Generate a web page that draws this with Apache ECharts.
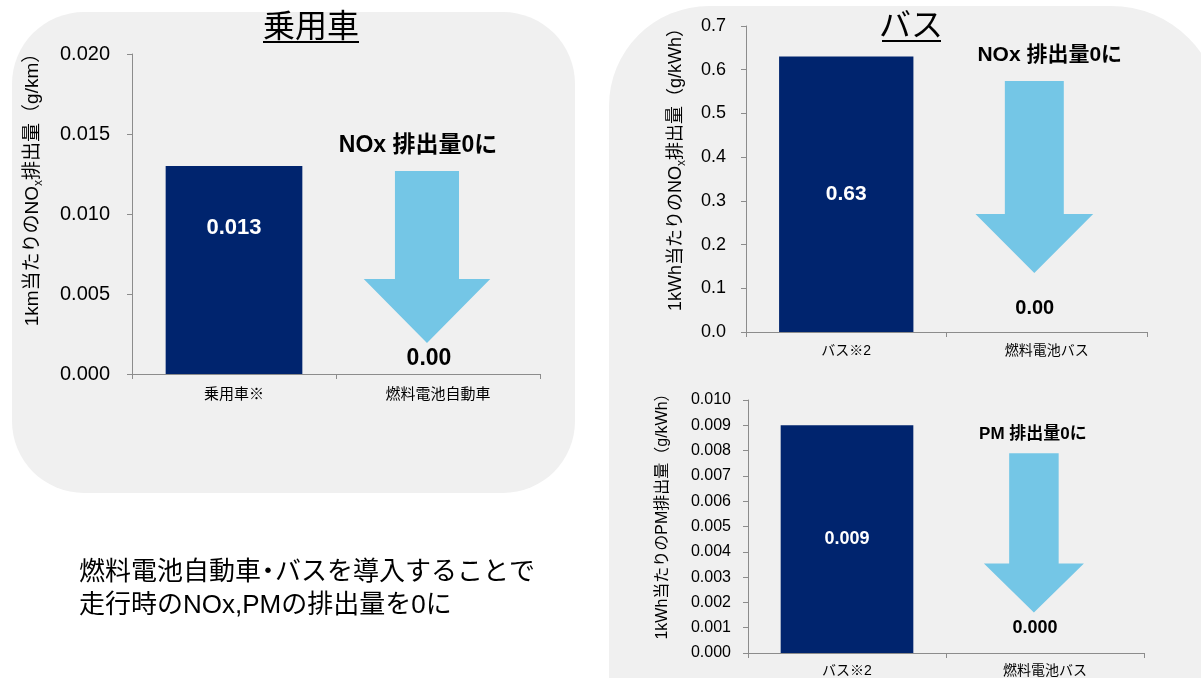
<!DOCTYPE html>
<html><head><meta charset="utf-8">
<script src="https://cdn.jsdelivr.net/npm/echarts@6/dist/echarts.min.js"></script>
<style>html,body{margin:0;padding:0;background:#fff}#c{width:1201px;height:678px}</style>
</head><body><div id="c"></div>
<script>
// ---- data ----
const carCategories = ['乗用車※', '燃料電池自動車'];
const carNox = [0.013, 0];
const carLabels = ['0.013', '0.00'];
const carAxis = { min: 0, max: 0.02, interval: 0.005, decimals: 3 };

const busCategories = ['バス※2', '燃料電池バス'];
const busNox = [0.63, 0];
const busNoxLabels = ['0.63', '0.00'];
const busNoxAxis = { min: 0, max: 0.7, interval: 0.1, decimals: 1 };

const busPm = [0.009, 0];
const busPmLabels = ['0.009', '0.000'];
const busPmAxis = { min: 0, max: 0.01, interval: 0.001, decimals: 3 };

const titles = ['乗用車', 'バス'];
const captions = ['NOx 排出量0に', 'NOx 排出量0に', 'PM 排出量0に'];
const yNames = [
  '1km当たりのNO{sub|x}排出量（g/km）',
  '1kWh当たりのNO{sub|x}排出量（g/kWh）',
  '1kWh当たりのPM排出量（g/kWh）'
];
const footText = '燃料電池自動車{dot|・}バスを導入することで\n走行時のNOx,PMの排出量を0に';

// ---- style ----
const FONT = "'Liberation Sans', 'Noto Sans CJK JP', sans-serif";
const NAVY = '#00246E';
const SKY = '#74C6E6';
const AXIS = '#8c8c8c';
const PANEL = '#f0f0f0';

const grids = [
  { left: 132, top: 54, width: 408, height: 320 },
  { left: 746, top: 26, width: 401, height: 306 },
  { left: 748, top: 400, width: 396, height: 257 }
];

const charts = [
  { cats: carCategories, vals: carNox, labels: carLabels, axis: carAxis,
    tickFont: 20, tickMargin: 22, catFont: 15, catMargin: 13,
    nameFont: 19, nameGap: 87, namePad: 58, subFont: 12,
    inFont: 22, inOffset: -42, zeroFont: 23, zeroDist: 4, zeroDx: -9,
    arrow: { top: 0.634, headTop: 0.297, tip: 0.097, dx: -0.054, sw: 0.314, hw: 0.62,
             cap: 0.7125, capDx: -0.098, capFont: 23 } },
  { cats: busCategories, vals: busNox, labels: busNoxLabels, axis: busNoxAxis,
    tickFont: 18, tickMargin: 20, catFont: 14, catMargin: 12,
    nameFont: 18, nameGap: 58, namePad: 28, subFont: 12,
    inFont: 21, inOffset: 0, zeroFont: 20, zeroDist: 14, zeroDx: -12,
    arrow: { top: 0.820, headTop: 0.386, tip: 0.193, dx: -0.062, sw: 0.294, hw: 0.587,
             cap: 0.905, capDx: 0.015, capFont: 21 } },
  { cats: busCategories, vals: busPm, labels: busPmLabels, axis: busPmAxis,
    tickFont: 16, tickMargin: 17, catFont: 14, catMargin: 11,
    nameFont: 16, nameGap: 74, namePad: 28, subFont: 10,
    inFont: 18, inOffset: 0, zeroFont: 18, zeroDist: 16, zeroDx: -10,
    arrow: { top: 0.790, headTop: 0.354, tip: 0.160, dx: -0.056, sw: 0.25, hw: 0.505,
             cap: 0.864, capDx: -0.061, capFont: 17 } }
];

const xAxis = [], yAxis = [], series = [];
charts.forEach((c, i) => {
  xAxis.push({
    type: 'category', gridIndex: i, data: c.cats,
    axisLine: { lineStyle: { color: AXIS, width: 1 } },
    axisTick: { show: true, length: 5, lineStyle: { color: AXIS } },
    axisLabel: { color: '#000', fontSize: c.catFont, margin: c.catMargin, fontFamily: FONT }
  });
  yAxis.push({
    type: 'value', gridIndex: i, min: c.axis.min, max: c.axis.max, interval: c.axis.interval,
    axisLine: { show: true, lineStyle: { color: AXIS, width: 1 } },
    axisTick: { show: true, length: 5, lineStyle: { color: AXIS } },
    splitLine: { show: false },
    axisLabel: { color: '#000', fontSize: c.tickFont, margin: c.tickMargin, fontFamily: FONT,
      formatter: v => v.toFixed(c.axis.decimals) },
    name: yNames[i], nameLocation: 'middle', nameRotate: 90, nameGap: c.nameGap,
    nameTextStyle: { color: '#000', fontSize: c.nameFont, fontFamily: FONT, lineHeight: c.nameFont + 6,
      padding: [0, 0, 0, c.namePad],
      rich: { sub: { fontSize: c.subFont, lineHeight: c.subFont + 1, verticalAlign: 'bottom', fontFamily: FONT, color: '#000' } } }
  });
  series.push({
    type: 'bar', xAxisIndex: i, yAxisIndex: i, barWidth: '67%', z: 3,
    data: c.vals.map((v, k) => ({
      value: v,
      itemStyle: { color: k === 0 ? NAVY : 'rgba(0,0,0,0)' },
      label: k === 0
        ? { show: true, position: 'inside', offset: [0, c.inOffset], color: '#fff', fontWeight: 'bold',
            fontSize: c.inFont, fontFamily: FONT }
        : { show: true, position: 'top', distance: c.zeroDist, offset: [c.zeroDx, 0], color: '#000',
            fontWeight: 'bold', fontSize: c.zeroFont, fontFamily: FONT }
    })),
    label: { formatter: p => c.labels[p.dataIndex] }
  });
  const a = c.arrow, ax = c.axis;
  series.push({
    type: 'custom', xAxisIndex: i, yAxisIndex: i, z: 4, clip: false,
    data: [[c.cats[1], c.vals[1]]],
    renderItem: (params, api) => {
      const base = api.coord([api.value(0), api.value(1)]);
      const band = api.size([1, 0])[0];
      const yAt = f => api.coord([api.value(0), ax.max * f])[1];
      const cx = base[0] + a.dx * band;
      const sw = a.sw * band / 2, hw = a.hw * band / 2;
      const top = yAt(a.top), ht = yAt(a.headTop), tip = yAt(a.tip);
      return {
        type: 'group',
        children: [
          { type: 'polygon',
            shape: { points: [[cx - sw, top], [cx + sw, top], [cx + sw, ht], [cx + hw, ht],
                              [cx, tip], [cx - hw, ht], [cx - sw, ht]] },
            style: { fill: SKY } },
          { type: 'text',
            style: { text: captions[i], x: base[0] + a.capDx * band, y: yAt(a.cap),
                     align: 'center', verticalAlign: 'middle', fill: '#000',
                     font: 'bold ' + a.capFont + 'px ' + FONT } }
        ]
      };
    }
  });
});

const graphic = [
  { type: 'rect', z: -10, shape: { x: 12, y: 12, width: 563, height: 481, r: 72 }, style: { fill: PANEL } },
  { type: 'rect', z: -10, shape: { x: 609, y: 6, width: 612, height: 720, r: [100, 110, 0, 0] }, style: { fill: PANEL } },
  { type: 'text', z: 10, style: { text: titles[0], x: 311, y: 28, align: 'center', verticalAlign: 'middle',
      fill: '#000', font: '32px ' + FONT } },
  { type: 'line', z: 10, shape: { x1: 263, y1: 42, x2: 359, y2: 42 }, style: { stroke: '#000', lineWidth: 2 } },
  { type: 'text', z: 10, style: { text: titles[1], x: 911, y: 27, align: 'center', verticalAlign: 'middle',
      fill: '#000', font: '32px ' + FONT } },
  { type: 'line', z: 10, shape: { x1: 882, y1: 41, x2: 941, y2: 41 }, style: { stroke: '#000', lineWidth: 2 } },
  { type: 'text', z: 10, style: { text: footText, x: 79, y: 556, fill: '#000', font: '26px ' + FONT, lineHeight: 33,
      rich: { dot: { width: 14, align: 'center', fontSize: 26, fontFamily: FONT, lineHeight: 33, fill: '#000' } } } }
];

const chart = echarts.init(document.getElementById('c'), null, { renderer: 'canvas' });
chart.setOption({
  animation: false,
  backgroundColor: '#fff',
  grid: grids,
  xAxis, yAxis, series, graphic
});
</script></body></html>
